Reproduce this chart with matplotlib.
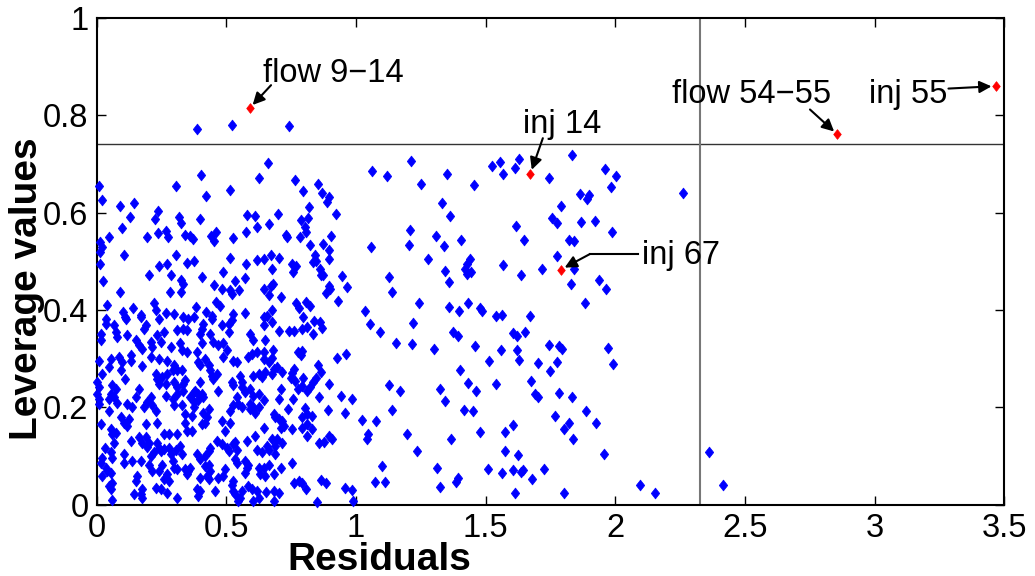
import numpy as np
import matplotlib
matplotlib.use('Agg')
import matplotlib.pyplot as plt

plt.rcParams['font.family'] = ['Liberation Sans', 'DejaVu Sans']

# (residual, leverage) pairs, grouped by region
upper_left = [
    (0.007, 0.655), (0.020, 0.625), (0.088, 0.614), (0.142, 0.620), (0.129, 0.592),
    (0.097, 0.569), (0.048, 0.550), (0.014, 0.540), (0.020, 0.529), (0.014, 0.519),
    (0.014, 0.495), (0.024, 0.460), (0.106, 0.513), (0.091, 0.436), (0.039, 0.410),
    (0.103, 0.395), (0.107, 0.385), (0.140, 0.403), (0.171, 0.390), (0.194, 0.550),
    (0.200, 0.471), (0.226, 0.586), (0.237, 0.603), (0.236, 0.558), (0.239, 0.491),
    (0.268, 0.563), (0.275, 0.550), (0.271, 0.495), (0.219, 0.414), (0.230, 0.399),
    (0.267, 0.394), (0.299, 0.392), (0.288, 0.471), (0.281, 0.436), (0.307, 0.655),
    (0.316, 0.590), (0.325, 0.579), (0.306, 0.513), (0.339, 0.553), (0.361, 0.552),
    (0.370, 0.546), (0.346, 0.497), (0.374, 0.500), (0.325, 0.462), (0.333, 0.454),
    (0.326, 0.436), (0.403, 0.677), (0.422, 0.634), (0.397, 0.586), (0.406, 0.467),
    (0.384, 0.405), (0.423, 0.395), (0.445, 0.388), (0.442, 0.552), (0.451, 0.541),
    (0.458, 0.561), (0.451, 0.452), (0.486, 0.478), (0.515, 0.646), (0.524, 0.548),
    (0.515, 0.507), (0.461, 0.416), (0.477, 0.409), (0.483, 0.443), (0.515, 0.440),
    (0.522, 0.433), (0.532, 0.460), (0.547, 0.440), (0.526, 0.392), (0.575, 0.495),
    (0.580, 0.596), (0.609, 0.594), (0.618, 0.571), (0.577, 0.561), (0.573, 0.465),
    (0.573, 0.393), (0.627, 0.672), (0.616, 0.503),
]
upper_mid = [
    (0.661, 0.701), (0.764, 0.667), (0.854, 0.658), (0.797, 0.645), (0.868, 0.641),
    (0.895, 0.632), (0.886, 0.622), (0.819, 0.612), (0.698, 0.598), (0.923, 0.598),
    (0.663, 0.577), (0.787, 0.584), (0.814, 0.589), (0.802, 0.570), (0.806, 0.560),
    (0.729, 0.555), (0.734, 0.549), (0.785, 0.550), (0.903, 0.552), (0.823, 0.533),
    (0.871, 0.535), (0.895, 0.524), (0.895, 0.504), (0.644, 0.504), (0.671, 0.512),
    (0.703, 0.507), (0.674, 0.485), (0.840, 0.513), (0.835, 0.498), (0.847, 0.501),
    (0.754, 0.495), (0.768, 0.491), (0.756, 0.478), (0.859, 0.485), (0.863, 0.471),
    (0.871, 0.472), (0.947, 0.469), (0.963, 0.447), (0.931, 0.419), (0.895, 0.449),
    (0.899, 0.443), (0.882, 0.435), (0.644, 0.443), (0.679, 0.454), (0.670, 0.449),
    (0.665, 0.430), (0.710, 0.426), (0.769, 0.414), (0.781, 0.404), (0.808, 0.416),
    (0.824, 0.408), (0.674, 0.399), (0.657, 0.388), (0.644, 0.385), (0.796, 0.385),
    (0.837, 0.378), (0.860, 0.375), (0.676, 0.375),
]
lower_mid = [
    (0.702, 0.357), (0.741, 0.357), (0.760, 0.357), (0.792, 0.361), (0.811, 0.364),
    (0.867, 0.362), (0.835, 0.351), (0.679, 0.318), (0.775, 0.313), (0.792, 0.316),
    (0.788, 0.307), (0.927, 0.302), (0.960, 0.309), (0.676, 0.302), (0.663, 0.292),
    (0.683, 0.278), (0.696, 0.282), (0.715, 0.273), (0.676, 0.268), (0.760, 0.278),
    (0.754, 0.270), (0.747, 0.261), (0.766, 0.254), (0.796, 0.261), (0.853, 0.287),
    (0.863, 0.273), (0.844, 0.261), (0.835, 0.251), (0.824, 0.241), (0.809, 0.234),
    (0.895, 0.247), (0.792, 0.244), (0.775, 0.237), (0.709, 0.237), (0.702, 0.216),
    (0.856, 0.222), (0.940, 0.223), (0.985, 0.216), (0.757, 0.216), (0.737, 0.196),
    (0.801, 0.199), (0.893, 0.194), (0.959, 0.189), (0.683, 0.186), (0.689, 0.179),
    (0.702, 0.175), (0.715, 0.172), (0.721, 0.161), (0.709, 0.158), (0.644, 0.158),
    (0.792, 0.179), (0.811, 0.186), (0.831, 0.182), (0.790, 0.158), (0.811, 0.165),
    (0.831, 0.155), (0.811, 0.141), (0.754, 0.155), (0.856, 0.127), (0.876, 0.128),
    (0.895, 0.141), (0.908, 0.134), (0.676, 0.135), (0.696, 0.134), (0.715, 0.127),
    (0.689, 0.120), (0.663, 0.113), (0.689, 0.103), (0.663, 0.082), (0.683, 0.062),
    (0.709, 0.076), (0.754, 0.085), (0.760, 0.045), (0.779, 0.048), (0.792, 0.045),
    (0.805, 0.031), (0.863, 0.050), (0.882, 0.045), (0.959, 0.034), (0.985, 0.029),
    (0.850, 0.005), (0.989, 0.007), (0.651, 0.025), (0.683, 0.027), (0.702, 0.024),
    (0.685, 0.007),
]
lower_left_a = [
    (0.034, 0.382), (0.034, 0.372), (0.066, 0.368), (0.111, 0.382), (0.169, 0.386),
    (0.188, 0.368), (0.182, 0.361), (0.240, 0.382), (0.015, 0.351), (0.015, 0.338),
    (0.073, 0.355), (0.079, 0.344), (0.118, 0.348), (0.150, 0.338), (0.163, 0.327),
    (0.173, 0.320), (0.208, 0.334), (0.214, 0.324), (0.234, 0.348), (0.246, 0.334),
    (0.259, 0.355), (0.285, 0.324), (0.311, 0.358), (0.008, 0.296), (0.053, 0.300),
    (0.047, 0.282), (0.086, 0.303), (0.098, 0.293), (0.131, 0.307), (0.133, 0.296),
    (0.176, 0.284), (0.208, 0.303), (0.240, 0.300), (0.272, 0.296), (0.298, 0.286),
    (0.311, 0.276), (0.021, 0.269), (0.092, 0.276), (0.109, 0.258), (0.227, 0.269),
    (0.234, 0.258), (0.253, 0.262), (0.240, 0.248), (0.272, 0.269), (0.292, 0.276),
    (0.002, 0.252), (0.008, 0.241), (0.002, 0.227), (0.008, 0.217), (0.060, 0.245),
    (0.073, 0.238), (0.053, 0.227), (0.047, 0.217), (0.066, 0.221), (0.163, 0.238),
    (0.150, 0.221), (0.266, 0.248), (0.298, 0.252), (0.311, 0.241), (0.208, 0.221),
    (0.195, 0.210), (0.266, 0.224), (0.292, 0.217), (0.311, 0.227), (0.008, 0.207),
    (0.079, 0.208), (0.118, 0.206), (0.137, 0.201), (0.182, 0.200), (0.214, 0.204),
    (0.298, 0.204),
]
lower_left_b = [
    (0.047, 0.192), (0.092, 0.179), (0.105, 0.168), (0.118, 0.161), (0.124, 0.175),
    (0.015, 0.165), (0.053, 0.155), (0.073, 0.148), (0.060, 0.144), (0.188, 0.165),
    (0.227, 0.192), (0.234, 0.168), (0.259, 0.144), (0.279, 0.144), (0.311, 0.144),
    (0.066, 0.127), (0.032, 0.117), (0.131, 0.131), (0.163, 0.138), (0.176, 0.127),
    (0.188, 0.138), (0.202, 0.127), (0.195, 0.119), (0.234, 0.127), (0.240, 0.117),
    (0.246, 0.110), (0.221, 0.107), (0.208, 0.100), (0.259, 0.115), (0.279, 0.117),
    (0.304, 0.113), (0.285, 0.103), (0.053, 0.107), (0.060, 0.096), (0.021, 0.096),
    (0.015, 0.086), (0.105, 0.103), (0.105, 0.086), (0.137, 0.089), (0.169, 0.089),
    (0.034, 0.076), (0.041, 0.069), (0.053, 0.065), (0.202, 0.082), (0.214, 0.069),
    (0.240, 0.069), (0.253, 0.082), (0.292, 0.089), (0.298, 0.076), (0.311, 0.072),
    (0.272, 0.062), (0.279, 0.048), (0.259, 0.052), (0.021, 0.058), (0.156, 0.058),
    (0.150, 0.048), (0.060, 0.045), (0.047, 0.038), (0.053, 0.031), (0.227, 0.034),
    (0.246, 0.031), (0.272, 0.024), (0.176, 0.031), (0.169, 0.021), (0.144, 0.021),
    (0.176, 0.014), (0.311, 0.014), (0.060, 0.010),
]
lower_left_c = [
    (0.334, 0.386), (0.353, 0.382), (0.373, 0.386), (0.334, 0.361), (0.347, 0.358),
    (0.411, 0.372), (0.405, 0.361), (0.398, 0.351), (0.443, 0.382), (0.482, 0.368),
    (0.508, 0.372), (0.520, 0.379), (0.508, 0.355), (0.643, 0.368), (0.437, 0.351),
    (0.592, 0.351), (0.321, 0.331), (0.327, 0.317), (0.347, 0.313), (0.405, 0.331),
    (0.450, 0.334), (0.469, 0.327), (0.488, 0.331), (0.501, 0.317), (0.604, 0.338),
    (0.649, 0.338), (0.385, 0.313), (0.418, 0.300), (0.488, 0.303), (0.527, 0.296),
    (0.540, 0.293), (0.585, 0.303), (0.598, 0.310), (0.617, 0.313), (0.643, 0.313),
    (0.643, 0.300), (0.392, 0.293), (0.398, 0.286), (0.431, 0.286), (0.437, 0.276),
    (0.443, 0.265), (0.450, 0.258), (0.463, 0.269), (0.327, 0.276), (0.553, 0.265),
    (0.559, 0.252), (0.527, 0.245), (0.520, 0.252), (0.604, 0.265), (0.624, 0.269),
    (0.636, 0.262), (0.649, 0.272), (0.341, 0.255), (0.334, 0.248), (0.398, 0.252),
    (0.379, 0.234), (0.373, 0.231), (0.392, 0.227), (0.405, 0.227), (0.469, 0.234),
    (0.334, 0.234), (0.360, 0.221), (0.373, 0.210), (0.392, 0.214), (0.411, 0.221),
    (0.559, 0.241), (0.572, 0.231), (0.592, 0.238), (0.604, 0.224), (0.624, 0.227),
    (0.643, 0.214), (0.540, 0.221), (0.527, 0.204), (0.546, 0.207), (0.559, 0.200),
    (0.592, 0.207), (0.604, 0.200), (0.624, 0.200), (0.327, 0.204), (0.373, 0.200),
]
lower_left_d = [
    (0.341, 0.186), (0.366, 0.182), (0.411, 0.189), (0.431, 0.196), (0.424, 0.179),
    (0.418, 0.168), (0.405, 0.165), (0.341, 0.168), (0.366, 0.151), (0.347, 0.151),
    (0.514, 0.192), (0.611, 0.189), (0.592, 0.196), (0.482, 0.172), (0.514, 0.168),
    (0.495, 0.151), (0.321, 0.120), (0.327, 0.103), (0.385, 0.103), (0.398, 0.093),
    (0.418, 0.100), (0.431, 0.110), (0.437, 0.117), (0.463, 0.131), (0.482, 0.124),
    (0.501, 0.117), (0.508, 0.110), (0.527, 0.124), (0.534, 0.128), (0.540, 0.113),
    (0.578, 0.131), (0.611, 0.141), (0.617, 0.113), (0.636, 0.107), (0.656, 0.120),
    (0.431, 0.082), (0.418, 0.079), (0.437, 0.069), (0.341, 0.072), (0.353, 0.069),
    (0.360, 0.076), (0.347, 0.062), (0.495, 0.072), (0.488, 0.058), (0.469, 0.055),
    (0.534, 0.093), (0.540, 0.086), (0.572, 0.089), (0.578, 0.076), (0.585, 0.082),
    (0.572, 0.065), (0.624, 0.076), (0.643, 0.076), (0.630, 0.062), (0.649, 0.058),
    (0.398, 0.055), (0.424, 0.058), (0.431, 0.052), (0.527, 0.048), (0.520, 0.041),
    (0.585, 0.038), (0.598, 0.031), (0.385, 0.031), (0.398, 0.027), (0.392, 0.017),
    (0.456, 0.027), (0.527, 0.027), (0.534, 0.021), (0.559, 0.027), (0.617, 0.027),
    (0.624, 0.014), (0.604, 0.007), (0.553, 0.014), (0.546, 0.007),
]
upper_right = [
    (1.060, 0.686), (1.210, 0.706), (1.119, 0.676), (1.352, 0.680), (1.252, 0.658),
    (1.456, 0.656), (1.524, 0.696), (1.555, 0.705), (1.568, 0.679), (1.613, 0.692),
    (1.627, 0.710), (1.744, 0.672), (1.833, 0.718), (1.961, 0.689), (2.002, 0.675),
    (1.981, 0.653), (1.863, 0.639), (1.899, 0.636), (1.889, 0.629), (1.790, 0.613),
    (1.333, 0.619), (1.362, 0.593), (1.754, 0.589), (1.773, 0.579), (1.869, 0.581),
    (1.923, 0.582), (1.617, 0.572), (1.208, 0.564), (1.987, 0.561), (1.307, 0.551),
    (1.403, 0.544), (1.648, 0.543), (1.822, 0.544), (1.841, 0.542), (1.057, 0.529),
    (1.204, 0.533), (1.338, 0.532), (1.775, 0.511), (1.279, 0.504), (1.438, 0.504),
    (1.427, 0.495), (1.419, 0.485), (1.442, 0.478), (1.429, 0.474), (1.567, 0.493),
    (1.715, 0.485), (1.841, 0.485), (1.341, 0.479), (1.125, 0.467), (1.360, 0.457),
    (1.634, 0.472), (1.827, 0.453), (1.936, 0.461), (1.963, 0.443), (1.137, 0.436),
    (1.243, 0.414), (1.432, 0.414), (1.357, 0.405), (1.396, 0.398), (1.476, 0.403),
    (1.487, 0.398), (1.540, 0.388), (1.563, 0.390), (1.669, 0.387), (1.881, 0.414),
    (1.033, 0.398), (2.261, 0.640),
]
lower_right = [
    (1.052, 0.371), (1.221, 0.373), (1.091, 0.355), (1.375, 0.355), (1.393, 0.346),
    (1.604, 0.353), (1.622, 0.347), (1.651, 0.355), (1.155, 0.333), (1.217, 0.330),
    (1.300, 0.320), (1.460, 0.326), (1.557, 0.318), (1.620, 0.318), (1.743, 0.328),
    (1.783, 0.325), (1.795, 0.320), (1.972, 0.322), (1.512, 0.296), (1.630, 0.298),
    (1.700, 0.291), (1.775, 0.293), (1.989, 0.288), (1.402, 0.277), (1.746, 0.274),
    (1.674, 0.254), (1.127, 0.245), (1.169, 0.233), (1.325, 0.237), (1.432, 0.249),
    (1.463, 0.233), (1.541, 0.247), (1.344, 0.213), (1.690, 0.227), (1.703, 0.222),
    (1.783, 0.230), (1.832, 0.222), (1.138, 0.194), (1.416, 0.194), (1.449, 0.192),
    (1.886, 0.192), (1.024, 0.173), (1.077, 0.171), (1.768, 0.182), (1.925, 0.167),
    (1.044, 0.144), (1.041, 0.134), (1.198, 0.144), (1.478, 0.150), (1.573, 0.150),
    (1.604, 0.163), (1.365, 0.135), (1.800, 0.155), (1.820, 0.167), (1.836, 0.135),
    (1.235, 0.110), (1.573, 0.110), (1.625, 0.102), (1.957, 0.104), (1.098, 0.079),
    (1.310, 0.076), (1.510, 0.072), (1.563, 0.065), (1.605, 0.071), (1.635, 0.066),
    (1.643, 0.071), (1.723, 0.072), (1.071, 0.046), (1.110, 0.046), (1.322, 0.036),
    (1.386, 0.046), (1.391, 0.054), (1.679, 0.052), (1.613, 0.023), (1.800, 0.024),
    (2.096, 0.041), (2.361, 0.107), (2.154, 0.024), (2.416, 0.040),
]
above_limit = [(0.388, 0.771), (0.520, 0.781), (0.743, 0.779)]

# flagged measurements (red)
outlier_names = ['flow 9\u221214', 'inj 14', 'inj 67', 'flow 54\u221255', 'inj 55']
outlier_res = [0.590, 1.672, 1.790, 2.855, 3.466]
outlier_lev = [0.815, 0.680, 0.483, 0.761, 0.860]

leverage_limit = 0.742
residual_limit = 2.326

xticks = [0, 0.5, 1, 1.5, 2, 2.5, 3, 3.5]
xtick_labels = ['0', '0.5', '1', '1.5', '2', '2.5', '3', '3.5']
yticks = [0, 0.2, 0.4, 0.6, 0.8, 1]
ytick_labels = ['0', '0.2', '0.4', '0.6', '0.8', '1']

blue = np.array(upper_left + upper_mid + lower_mid + lower_left_a + lower_left_b
                + lower_left_c + lower_left_d + upper_right + lower_right + above_limit)

fig = plt.figure(figsize=(10.35, 5.76), dpi=100)
ax = fig.add_axes([0.0935, 0.1241, 0.8770, 0.8446])

diamond = [(-0.78, 0), (0, 1), (0.78, 0), (0, -1), (-0.78, 0)]

ax.axhline(leverage_limit, color='#333333', lw=1.0, zorder=1)
ax.axvline(residual_limit, color='#777777', lw=1.5, zorder=1)

ax.plot(blue[:, 0], blue[:, 1], ls='none', marker=diamond, ms=7.8,
        color='#0000ff', mec='#0000ff', mew=0.5, clip_on=False, zorder=3)
ax.plot(outlier_res, outlier_lev, ls='none', marker=diamond, ms=7.0,
        color='#ff0000', mec='#ff0000', mew=0.5, clip_on=False, zorder=4)

# annotation text anchor (left, baseline) and arrow tails
text_pos = [(0.641, 0.868), (1.644, 0.763), (2.102, 0.494), (2.217, 0.825), (2.979, 0.826)]
arrow_tail = [(0.672, 0.862), (1.720, 0.753), (1.902, 0.515), (2.750, 0.812), (3.284, 0.855)]

for name, (tx, ty), (ax0, ay0), px, py in zip(outlier_names, text_pos, arrow_tail,
                                              outlier_res, outlier_lev):
    ax.text(tx, ty, name, fontsize=23.5, ha='left', va='baseline', zorder=5)
    ax.annotate('', xy=(px, py), xytext=(ax0, ay0),
                arrowprops=dict(arrowstyle='-|>', color='k', lw=1.5,
                                shrinkA=0, shrinkB=3, mutation_scale=18))

# inj 67 has an elbow: short horizontal lead from its label
ax.plot([1.902, 2.087], [0.515, 0.515], color='k', lw=1.5, zorder=5)

ax.set_xlim(0, 3.5)
ax.set_ylim(0, 1)
ax.set_xticks(xticks)
ax.set_xticklabels(xtick_labels)
ax.set_yticks(yticks)
ax.set_yticklabels(ytick_labels)
ax.tick_params(direction='in', length=6.5, width=1, top=True, right=True,
               labelsize=23.5, pad=6)
for s in ax.spines.values():
    s.set_linewidth(1.5)

ax.set_xlabel('Residuals', fontsize=28, fontweight='bold')
ax.set_ylabel('Leverage values', fontsize=28, fontweight='bold')
ax.xaxis.label.set_va('center')
ax.yaxis.label.set_va('center')
ax.xaxis.set_label_coords(0.311, -0.114)
ax.yaxis.set_label_coords(-0.0769, 0.443)

fig.savefig('out.png', dpi=100)
